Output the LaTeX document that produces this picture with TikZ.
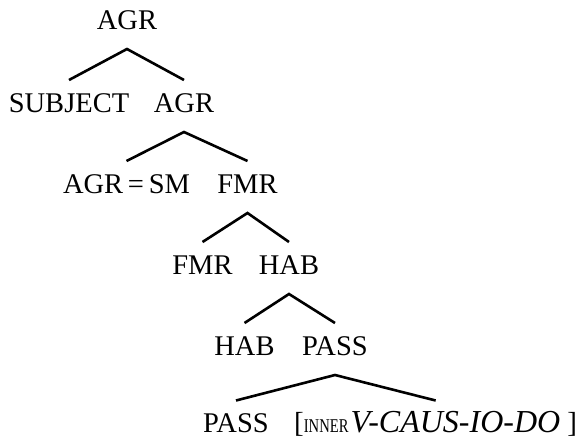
\documentclass[tikz,border=0pt]{standalone}
\usepackage{fontspec}
\setmainfont{Liberation Serif}
\usetikzlibrary{calc}
\begin{document}
\begin{tikzpicture}[x=1pt,y=-1pt,
  lab/.style={inner sep=0pt,anchor=base,font=\fontsize{28.5}{30}\selectfont},
  branch/.style={line width=2.6pt,line cap=butt,line join=miter}]
\useasboundingbox (0,0) rectangle (580,439);
% labels, one row per level of the tree
\node[lab] (agr0) at (127,29) {AGR};
\node[lab] (subj) at (69,112) {SUBJECT};
\node[lab] (agr1) at (184,112) {AGR};
\node[lab] (agrsm) at (126.5,193) {AGR\,=\,SM};
\node[lab] (fmr0) at (247.5,193) {FMR};
\node[lab] (fmr1) at (202.5,274) {FMR};
\node[lab] (hab0) at (289,274) {HAB};
\node[lab] (hab1) at (244.5,355) {HAB};
\node[lab] (pass0) at (335,355) {PASS};
\node[lab] (pass1) at (236,432.5) {PASS};
\node[lab,anchor=base west] (inner) at (294,432.5)
  {{\fontsize{29}{30}\selectfont[}\scalebox{0.75}[1]{\fontsize{19.5}{20}\selectfont INNER}\kern2pt{\itshape\fontsize{32}{32}\selectfont V-CAUS-IO-DO}\ {\fontsize{29}{30}\selectfont]}};
% branches: apex below the mother, feet above the daughters
\foreach \m/\a/\b in {agr0/subj/agr1, agr1/agrsm/fmr0, fmr0/fmr1/hab0, hab0/hab1/pass0, pass0/pass1/inner}
  \draw[branch] ($(\a.base)+(0,-32)$) -- ($(\m.base)+(0,20)$) -- ($(\b.base)+(0,-32)$);
\end{tikzpicture}
\end{document}
